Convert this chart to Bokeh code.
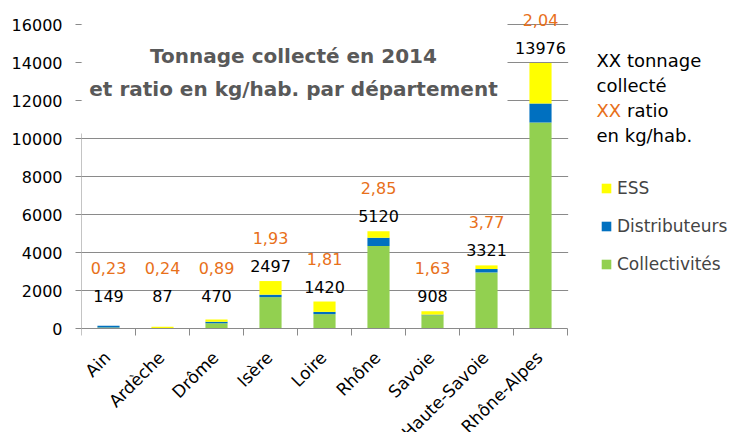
import math
from bokeh.plotting import figure
from bokeh.models import (ColumnDataSource, Range1d, FixedTicker, LabelSet, Label,
                          BoxAnnotation, Legend, LegendItem, LinearAxis)
from bokeh.core.properties import value
from bokeh.embed import file_html
from bokeh.resources import INLINE

# ---- data ----
departements = ["Ain", "Ardèche", "Drôme", "Isère", "Loire", "Rhône", "Savoie",
                "Haute-Savoie", "Rhône-Alpes"]
collectivites = [50, 10, 280, 1650, 755, 4340, 700, 2950, 10840]
distributeurs = [90, 7, 70, 130, 120, 440, 30, 180, 1000]
ess = [9, 70, 120, 717, 545, 340, 178, 191, 2136]
tonnage_total = [149, 87, 470, 2497, 1420, 5120, 908, 3321, 13976]
ratio_kg_hab = [0.23, 0.24, 0.89, 1.93, 1.81, 2.85, 1.63, 3.77, 2.04]
y_ticks = [0, 2000, 4000, 6000, 8000, 10000, 12000, 14000, 16000]

FONT = "DejaVu Sans"
GRAY = "#8a8a8a"
ORANGE = "#E8701A"
C_COLL, C_DIST, C_ESS = "#92D050", "#0070C0", "#FFFF00"

# ---- layout geometry (pixels) ----
W, H = 729, 432
LEFT, BOTTOM_BORDER = 81, 0
FRAME_H = H - BOTTOM_BORDER
Y0_PX, Y16_PX = 328, 24              # pixel rows of 0 and 16000
PX_PER_T = (Y0_PX - Y16_PX) / 16000.0
X_PER_CAT = 54.0
n = len(departements)
x_end = (W - LEFT) / X_PER_CAT
y_start = -(FRAME_H - Y0_PX) / PX_PER_T
y_end = 16000 + Y16_PX / PX_PER_T

def px_x(px):
    return (px - LEFT) / X_PER_CAT

def px_y(py):
    return (Y0_PX - py) / PX_PER_T

xc = [i + 0.5 for i in range(n)]
src = ColumnDataSource(dict(
    x=xc, dep=departements, coll=collectivites, dist=distributeurs, ess=ess,
    total_txt=[str(t) for t in tonnage_total],
    ratio_txt=[f"{r:.2f}".replace(".", ",") for r in ratio_kg_hab],
    lab_y=[max(t, 900) for t in tonnage_total],
    zero=[0] * n,
))

p = figure(width=W, height=H, x_range=Range1d(0, x_end), y_range=Range1d(y_start, y_end),
           output_backend="svg", toolbar_location=None,
           min_border_left=LEFT, min_border_right=0, min_border_top=0,
           min_border_bottom=BOTTOM_BORDER)
p.outline_line_color = None
p.background_fill_color = "white"

rs = p.vbar_stack(["coll", "dist", "ess"], x="x", width=0.41, source=src,
                  color=[C_COLL, C_DIST, C_ESS], line_color=None)

# x axis drawn at y = 0
xa = p.xaxis[0]
xa.fixed_location = 0
xa.bounds = (0, n)
xa.ticker = FixedTicker(ticks=list(range(n + 1)))
xa.major_label_overrides = {i: "" for i in range(n + 1)}
xa.major_label_text_font_size = "1px"
xa.major_label_standoff = 0
xa.axis_line_color = GRAY
xa.major_tick_line_color = GRAY
xa.major_tick_out = 7
xa.major_tick_in = 0
xa.minor_tick_line_color = None

# y axis: ticks + labels (no line); separate line only where not hidden by the title box
ya = p.yaxis[0]
ya.bounds = (0, 16000)
ya.ticker = FixedTicker(ticks=y_ticks)
ya.axis_line_color = None
ya.major_tick_line_color = GRAY
ya.major_tick_out = 6
ya.major_tick_in = 0
ya.minor_tick_line_color = None
ya.major_label_standoff = 13
ya.major_label_text_font = FONT
ya.major_label_text_font_size = "16px"
ya.major_label_text_color = "black"

yline = LinearAxis(fixed_location=0, bounds=(0, px_y(133)), ticker=FixedTicker(ticks=[]),
                   axis_line_color=GRAY, major_tick_line_color=None,
                   minor_tick_line_color=None, major_label_text_font_size="1px",
                   major_label_standoff=0)
p.add_layout(yline, "left")

p.xgrid.visible = False
p.ygrid.ticker = FixedTicker(ticks=y_ticks[1:])
p.ygrid.grid_line_color = GRAY

# white areas: title box and the space right of the plot area
p.add_layout(BoxAnnotation(left=0.01, right=px_x(507), bottom=px_y(133), top=y_end,
                           fill_color="white", fill_alpha=1.0, line_color=None))
p.add_layout(BoxAnnotation(left=n + 0.012, right=x_end, bottom=px_y(331), top=y_end,
                           fill_color="white", fill_alpha=1.0, line_color=None))

# category labels (rotated)
p.add_layout(LabelSet(x="x", y="zero", text="dep", source=src, angle=math.pi / 4,
                      text_align="right", text_baseline="middle", x_offset=-1, y_offset=-26,
                      text_font=value(FONT), text_font_size="17px", text_color="black"))

# value labels
p.add_layout(LabelSet(x="x", y="lab_y", text="total_txt", source=src, y_offset=15,
                      text_align="center", text_baseline="middle",
                      text_font=value(FONT), text_font_size="16px", text_color="black"))
p.add_layout(LabelSet(x="x", y="lab_y", text="ratio_txt", source=src, y_offset=43,
                      text_align="center", text_baseline="middle",
                      text_font=value(FONT), text_font_size="16px", text_color=ORANGE))

# title
for txt, py in [("Tonnage collecté en 2014", 55), ("et ratio en kg/hab. par département", 88)]:
    p.add_layout(Label(x=px_x(293), y=px_y(py), text=txt, text_align="center",
                       text_baseline="middle", text_font=FONT, text_font_size="20px",
                       text_font_style="bold", text_color="#595959"))

# right-side explanatory text
for txt, py, col, pxx in [("XX tonnage", 60, "black", 596), ("collecté", 85, "black", 596),
                          ("XX", 110, ORANGE, 596), ("ratio", 110, "black", 626.5),
                          ("en kg/hab.", 135, "black", 596)]:
    p.add_layout(Label(x=px_x(pxx), y=px_y(py), text=txt, text_align="left",
                       text_baseline="middle", text_font=FONT, text_font_size="18px",
                       text_color=col))

legend = Legend(items=[LegendItem(label="ESS", renderers=[rs[2]]),
                       LegendItem(label="Distributeurs", renderers=[rs[1]]),
                       LegendItem(label="Collectivités", renderers=[rs[0]])],
                location=(600 - LEFT, FRAME_H - 274), orientation="vertical",
                glyph_width=12, glyph_height=12,
                label_text_font=FONT, label_text_font_size="17px", label_standoff=5,
                spacing=18, padding=0, margin=0, border_line_color=None,
                background_fill_alpha=0)
p.add_layout(legend)

open("out.html", "w").write(file_html(p, INLINE))
